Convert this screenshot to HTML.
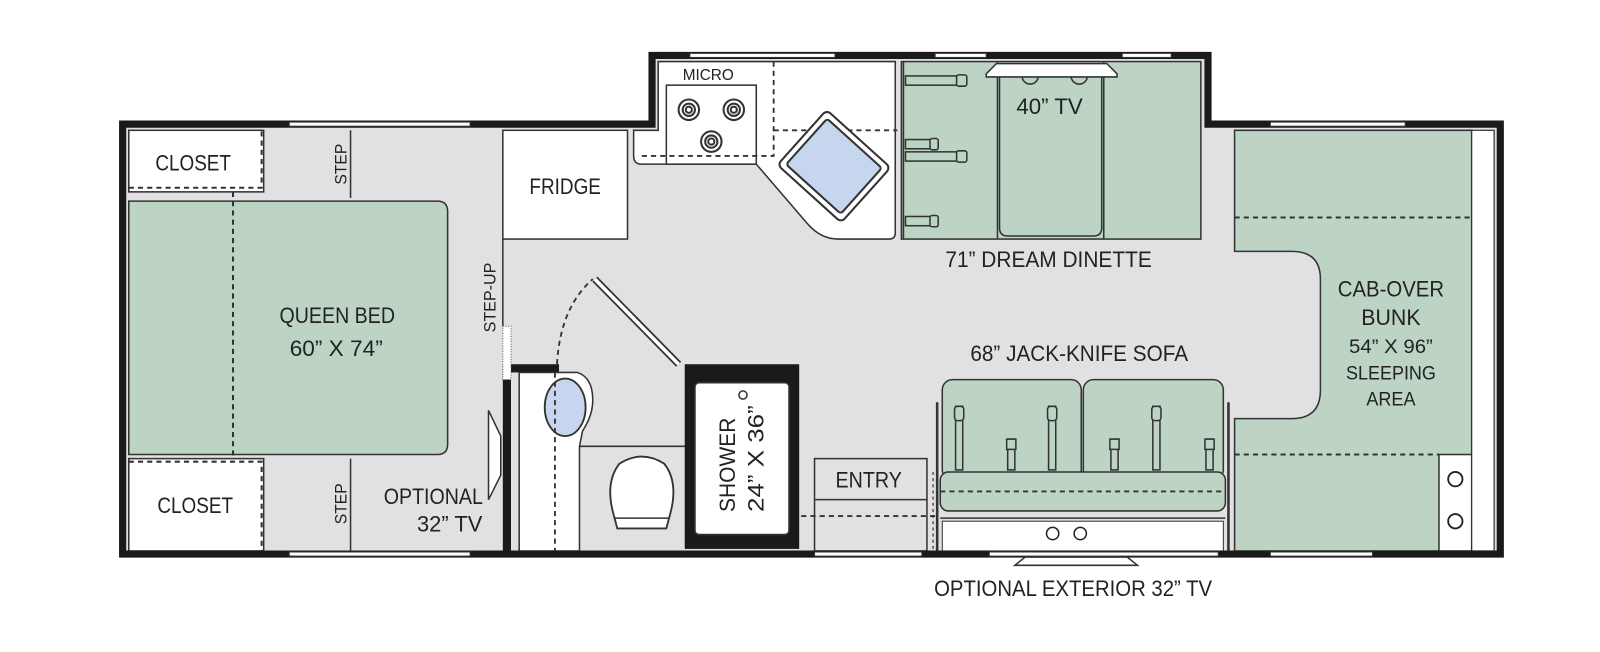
<!DOCTYPE html>
<html><head><meta charset="utf-8"><style>
html,body{margin:0;padding:0;background:#fff;}
svg{display:block}
text{font-family:"Liberation Sans",sans-serif;fill:#222;}
</style></head><body>
<svg width="1600" height="652" viewBox="0 0 1600 652" xmlns="http://www.w3.org/2000/svg">
<g transform="scale(1.022 1.026)">
<!-- floor -->
<path d="M120,121 L638,121 L638,54 L1182,54 L1182,121 L1468,121 L1468,540 L120,540 Z" fill="#e1e1e3"/>
<!-- closets -->
<rect x="126" y="127" width="132" height="60" fill="#fff" stroke="#333" stroke-width="1.5"/>
<path d="M126,183 L256,183 L256,127" fill="none" stroke="#333" stroke-width="2" stroke-dasharray="5,4"/>
<rect x="126" y="447" width="132" height="90" fill="#fff" stroke="#333" stroke-width="1.5"/>
<path d="M126,450 L256,450 L256,537" fill="none" stroke="#333" stroke-width="2" stroke-dasharray="5,4"/>
<line x1="343" y1="127" x2="343" y2="193" stroke="#333" stroke-width="1.5"/>
<line x1="343" y1="447" x2="343" y2="537" stroke="#333" stroke-width="1.5"/>
<!-- bed -->
<path d="M126,196 L428,196 Q438,196 438,206 L438,433 Q438,443 428,443 L126,443 Z" fill="#bdd4c5" stroke="#333" stroke-width="1.5"/>
<line x1="228" y1="187" x2="228" y2="447" stroke="#333" stroke-width="2" stroke-dasharray="5,4"/>
<!-- fridge -->
<rect x="492" y="127" width="122" height="106" fill="#fff" stroke="#333" stroke-width="1.5"/>
<line x1="492" y1="233" x2="492" y2="318" stroke="#333" stroke-width="1.5"/>
<!-- kitchen -->
<path d="M620,127 L620,152 Q620,160 628,160 L740,160 L790,218 Q803,233 820,233 L870,233 Q876,233 876,227 L876,60 L644,60 L644,127 Z" fill="#fff" stroke="#333" stroke-width="1.5"/>
<rect x="652" y="83" width="88" height="77" fill="#fff" stroke="#333" stroke-width="1.5"/>
<g fill="none" stroke="#333" stroke-width="2">
<circle cx="674" cy="107" r="10"/><circle cx="674" cy="107" r="6"/><circle cx="674" cy="107" r="3"/>
<circle cx="718" cy="107" r="10"/><circle cx="718" cy="107" r="6"/><circle cx="718" cy="107" r="3"/>
<circle cx="696" cy="138" r="10"/><circle cx="696" cy="138" r="6"/><circle cx="696" cy="138" r="3"/>
</g>
<path d="M757,60 L757,152 L626,152 M757,127 L878,127" fill="none" stroke="#333" stroke-width="1.8" stroke-dasharray="5,4"/>
<g transform="translate(816,162) rotate(42)">
<rect x="-42" y="-36" width="84" height="72" rx="5" fill="#fff" stroke="#333" stroke-width="2"/>
<rect x="-36" y="-30" width="72" height="60" rx="3" fill="#c5d6ee" stroke="#333" stroke-width="2"/>
</g>
<!-- dinette -->
<rect x="882" y="60" width="293" height="173" fill="#bdd4c5" stroke="#333" stroke-width="1.5"/>
<line x1="884" y1="60" x2="884" y2="233" stroke="#333" stroke-width="1.5"/>
<line x1="976" y1="60" x2="976" y2="233" stroke="#333" stroke-width="1.5"/>
<path d="M978,72 L978,222 Q978,230 986,230 L1070,230 Q1078,230 1078,222 L1078,72" fill="none" stroke="#333" stroke-width="1.5"/>
<line x1="1080" y1="60" x2="1080" y2="233" stroke="#333" stroke-width="1.5"/>
<path d="M1000,74 a8,8 0 0 0 16,0 M1048,74 a8,8 0 0 0 16,0" fill="none" stroke="#333" stroke-width="1.5"/>
<path d="M975,62 L1083,62 L1093,72 L1093,75 L965,75 L965,72 Z" fill="#fff" stroke="#333" stroke-width="1.5"/>
<g fill="#bdd4c5" stroke="#333" stroke-width="1.5">
<rect x="886" y="74" width="52" height="9"/><rect x="936" y="73" width="10" height="11" rx="2"/>
<rect x="886" y="148" width="52" height="9"/><rect x="936" y="147" width="10" height="11" rx="2"/>
<rect x="886" y="136" width="26" height="9"/><rect x="910" y="135" width="8" height="11" rx="2"/>
<rect x="886" y="211" width="26" height="9"/><rect x="910" y="210" width="8" height="11" rx="2"/>
</g>
<!-- cab-over bunk -->
<path d="M1208,127 L1440,127 L1440,537 L1208,537 L1208,408 L1264,408 Q1292,408 1292,380 L1292,272 Q1292,245 1264,245 L1208,245 Z" fill="#bdd4c5" stroke="#333" stroke-width="1.5"/>
<line x1="1208" y1="212" x2="1440" y2="212" stroke="#333" stroke-width="2" stroke-dasharray="5,4"/>
<line x1="1208" y1="443" x2="1408" y2="443" stroke="#333" stroke-width="2" stroke-dasharray="5,4"/>
<rect x="1408" y="443" width="32" height="94" fill="#fff" stroke="#333" stroke-width="1.5"/>
<circle cx="1424" cy="467" r="7" fill="#fff" stroke="#222" stroke-width="1.8"/>
<circle cx="1424" cy="508" r="7" fill="#fff" stroke="#222" stroke-width="1.8"/>
<rect x="1440" y="127" width="22" height="410" fill="#fff" stroke="#333" stroke-width="1.2"/>
<!-- bath -->
<rect x="492" y="355" width="8" height="182" fill="#1a1a1a"/>
<rect x="492" y="355" width="55" height="8" fill="#1a1a1a"/>
<path d="M508,363 L565,363 Q580,368 580,390 Q580,405 570,420 L567,435 L567,537 L508,537 Z" fill="#fff" stroke="#333" stroke-width="1.5"/>
<ellipse cx="553" cy="397" rx="20" ry="28" fill="#c5d6ee" stroke="#333" stroke-width="1.8"/>
<line x1="543" y1="363" x2="543" y2="537" stroke="#333" stroke-width="1.8" stroke-dasharray="5,4"/>
<line x1="567" y1="435" x2="672" y2="435" stroke="#333" stroke-width="1.5"/>
<path d="M600,500 Q592,470 606,452 Q628,438 650,452 Q664,470 656,500 L652,515 L604,515 Z" fill="#fff" stroke="#333" stroke-width="1.8"/>
<line x1="602" y1="505" x2="654" y2="505" stroke="#333" stroke-width="1.5"/>
<rect x="670" y="355" width="112" height="180" fill="#1a1a1a"/>
<rect x="680" y="373" width="92" height="148" rx="4" fill="#fff" stroke="#333" stroke-width="1.5"/>
<circle cx="727" cy="385" r="4" fill="#fff" stroke="#333" stroke-width="1.5"/>
<!-- door -->
<path d="M545,355 Q548,300 580,272" fill="none" stroke="#333" stroke-width="1.8" stroke-dasharray="5,4"/>
<line x1="582" y1="272" x2="664" y2="355" stroke="#333" stroke-width="7"/>
<line x1="582" y1="272" x2="664" y2="355" stroke="#fff" stroke-width="3.5"/>
<rect x="492" y="318" width="8" height="52" fill="#fff" stroke="#555" stroke-width="1" stroke-dasharray="1,1.5"/>
<!-- optional TV -->
<path d="M478,400 L490,425 L490,463 L478,487 Z" fill="#fff" stroke="#333" stroke-width="1.5"/>
<!-- entry -->
<rect x="797" y="447" width="110" height="90" fill="#e1e1e3" stroke="#333" stroke-width="1.5"/>
<line x1="797" y1="487" x2="907" y2="487" stroke="#333" stroke-width="1.5"/>
<line x1="784" y1="503" x2="915" y2="503" stroke="#333" stroke-width="1.8" stroke-dasharray="5,4"/>
<!-- sofa -->
<line x1="917" y1="392" x2="917" y2="537" stroke="#333" stroke-width="2.5"/>
<line x1="1202" y1="392" x2="1202" y2="537" stroke="#333" stroke-width="2.5"/>
<line x1="913" y1="460" x2="913" y2="537" stroke="#333" stroke-width="1.2" stroke-dasharray="3,3"/>
<rect x="922" y="370" width="136" height="98" rx="10" fill="#bdd4c5" stroke="#333" stroke-width="1.5"/>
<rect x="1060" y="370" width="137" height="98" rx="10" fill="#bdd4c5" stroke="#333" stroke-width="1.5"/>
<rect x="920" y="460" width="279" height="38" rx="8" fill="#bdd4c5" stroke="#333" stroke-width="1.5"/>
<line x1="920" y1="479" x2="1199" y2="479" stroke="#333" stroke-width="1.8" stroke-dasharray="5,4"/>
<line x1="920" y1="505" x2="1199" y2="505" stroke="#333" stroke-width="1.5"/>
<rect x="922" y="508" width="275" height="29" fill="#fff" stroke="#333" stroke-width="1"/>
<circle cx="1030" cy="520" r="6" fill="#fff" stroke="#222" stroke-width="1.5"/>
<circle cx="1057" cy="520" r="6" fill="#fff" stroke="#222" stroke-width="1.5"/>
<g fill="#bdd4c5" stroke="#333" stroke-width="1.5">
<rect x="935" y="396" width="7" height="62"/><rect x="934" y="396" width="9" height="14" rx="3"/>
<rect x="1026" y="396" width="7" height="62"/><rect x="1025" y="396" width="9" height="14" rx="3"/>
<rect x="986" y="428" width="7" height="30"/><rect x="985" y="428" width="9" height="10"/>
<rect x="1128" y="396" width="7" height="62"/><rect x="1127" y="396" width="9" height="14" rx="3"/>
<rect x="1087" y="428" width="7" height="30"/><rect x="1086" y="428" width="9" height="10"/>
<rect x="1180" y="428" width="7" height="30"/><rect x="1179" y="428" width="9" height="10"/>
</g>
<!-- walls -->
<path d="M120,121 L638,121 L638,54 L1182,54 L1182,121 L1468,121 L1468,540 L120,540 Z" fill="none" stroke="#1a1a1a" stroke-width="7"/>
<g fill="#fff" stroke="#333" stroke-width="1">
<rect x="283" y="119" width="177" height="4"/>
<rect x="283" y="538" width="177" height="4"/>
<rect x="675" y="52" width="142" height="4"/>
<rect x="915" y="52" width="50" height="4"/>
<rect x="1098" y="52" width="48" height="4"/>
<rect x="1243" y="119" width="132" height="4"/>
<rect x="1243" y="538" width="100" height="4"/>
<rect x="797" y="538" width="105" height="4"/>
<rect x="968" y="538" width="224" height="4"/>
</g>
<path d="M993,551 L1113,551 L1103,543 L1003,543 Z" fill="#fff" stroke="#333" stroke-width="1.5"/>
<!-- text -->
<g font-size="22" text-anchor="middle">
<text x="189" y="166" textLength="74" lengthAdjust="spacingAndGlyphs">CLOSET</text>
<text x="191" y="500" textLength="74" lengthAdjust="spacingAndGlyphs">CLOSET</text>
<text x="330" y="315" textLength="113" lengthAdjust="spacingAndGlyphs">QUEEN BED</text>
<text x="329" y="347" textLength="91" lengthAdjust="spacingAndGlyphs">60” X 74”</text>
<text x="424" y="491" textLength="97" lengthAdjust="spacingAndGlyphs">OPTIONAL</text>
<text x="440" y="518" textLength="64" lengthAdjust="spacingAndGlyphs">32” TV</text>
<text x="553" y="189" textLength="70" lengthAdjust="spacingAndGlyphs">FRIDGE</text>
<text x="1027" y="111" textLength="65" lengthAdjust="spacingAndGlyphs">40” TV</text>
<text x="1026" y="260" textLength="202" lengthAdjust="spacingAndGlyphs">71” DREAM DINETTE</text>
<text x="1056" y="352" textLength="213" lengthAdjust="spacingAndGlyphs">68” JACK-KNIFE SOFA</text>
<text x="850" y="475" textLength="65" lengthAdjust="spacingAndGlyphs">ENTRY</text>
<text x="1050" y="581" textLength="272" lengthAdjust="spacingAndGlyphs">OPTIONAL EXTERIOR 32” TV</text>
<text x="1361" y="289" textLength="104" lengthAdjust="spacingAndGlyphs">CAB-OVER</text>
<text x="1361" y="317" textLength="58" lengthAdjust="spacingAndGlyphs">BUNK</text>
<text x="1361" y="344" font-size="19" textLength="82" lengthAdjust="spacingAndGlyphs">54” X 96”</text>
<text x="1361" y="370" font-size="19" textLength="88" lengthAdjust="spacingAndGlyphs">SLEEPING</text>
<text x="1361" y="395" font-size="19" textLength="48" lengthAdjust="spacingAndGlyphs">AREA</text>
<text x="693" y="78" font-size="15" textLength="50" lengthAdjust="spacingAndGlyphs">MICRO</text>
<text transform="translate(333,160) rotate(-90)" y="0" font-size="16" textLength="40" lengthAdjust="spacingAndGlyphs" dy="6">STEP</text>
<text transform="translate(333,491) rotate(-90)" font-size="16" textLength="40" lengthAdjust="spacingAndGlyphs" dy="6">STEP</text>
<text transform="translate(479,290) rotate(-90)" font-size="16" textLength="68" lengthAdjust="spacingAndGlyphs" dy="6">STEP-UP</text>
<text transform="translate(712,453) rotate(-90)" font-size="22" textLength="92" lengthAdjust="spacingAndGlyphs" dy="7">SHOWER</text>
<text transform="translate(740,447) rotate(-90)" font-size="22" textLength="104" lengthAdjust="spacingAndGlyphs" dy="7">24” X 36”</text>
</g>
</g>
</svg>
</body></html>
